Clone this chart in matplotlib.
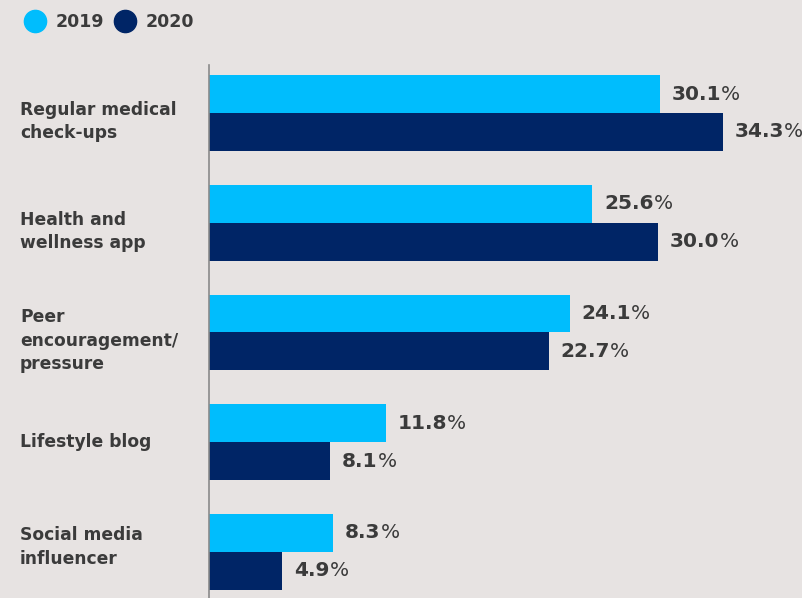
import matplotlib.pyplot as plt
from matplotlib.lines import Line2D

# survey data
categories = ["Regular medical\ncheck-ups", "Health and\nwellness app",
              "Peer\nencouragement/\npressure", "Lifestyle blog",
              "Social media\ninfluencer"]
vals_2019 = [30.1, 25.6, 24.1, 11.8, 8.3]
vals_2020 = [34.3, 30.0, 22.7, 8.1, 4.9]
years = ["2019", "2020"]

bg = "#e7e3e2"
c19 = "#00bdfd"
c20 = "#002566"
txt = "#3b3b3b"
font = "DejaVu Sans"

fig = plt.figure(figsize=(8.02, 5.98), dpi=100, facecolor=bg)
ax = fig.add_axes([209 / 802, 0, 1 - 209 / 802, (598 - 65) / 598])
ax.set_facecolor(bg)

h = 0.345
ys = list(range(len(categories)))
ax.barh([y - h / 2 for y in ys], vals_2019, height=h, color=c19)
ax.barh([y + h / 2 for y in ys], vals_2020, height=h, color=c20)

ax.set_xlim(0, 39.6)
ax.set_ylim(4.42, -0.437)

for s in ["top", "right", "bottom"]:
    ax.spines[s].set_visible(False)
ax.spines["left"].set_color("#8a8a8a")
ax.spines["left"].set_linewidth(1.2)
ax.set_xticks([])
ax.set_yticks([])

# category labels, nudged a little (points, downward positive)
nudge = [6, 6.5, 6, 0, -3.5]
for y, cat, dy in zip(ys, categories, nudge):
    ax.annotate(cat, xy=(20, y), xycoords=("figure pixels", "data"),
                xytext=(0, -dy), textcoords="offset points",
                ha="left", va="center", fontsize=12.3, fontweight="bold",
                color=txt, family=font, linespacing=1.38,
                annotation_clip=False)

# value labels: bold number, lighter percent sign
def value_label(x, y):
    t = ax.annotate(f"{x:.1f}", xy=(x, y), xytext=(8.5, 0),
                    textcoords="offset points", ha="left", va="center",
                    fontsize=14.5, fontweight="bold", color=txt, family=font)
    ax.annotate("%", xy=(1, 0), xycoords=t, ha="left", va="bottom",
                fontsize=14.5, color=txt, family=font)

for y, a, b in zip(ys, vals_2019, vals_2020):
    value_label(a, y - h / 2)
    value_label(b, y + h / 2)

# legend
handles = [Line2D([], [], marker="o", linestyle="", markersize=16, color=c)
           for c in (c19, c20)]
leg = fig.legend(handles, years, loc="center left",
                 bbox_to_anchor=(9 / 802, 1 - 22 / 598), ncol=2,
                 frameon=False, handletextpad=0.6, columnspacing=0.6,
                 handlelength=1.2,
                 prop={"family": font, "weight": "bold", "size": 12.5})
for t in leg.get_texts():
    t.set_color(txt)

fig.savefig("out.png", dpi=100, facecolor=bg)
